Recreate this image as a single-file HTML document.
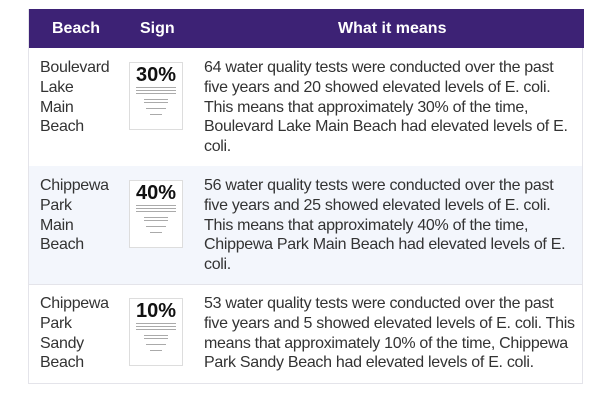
<!DOCTYPE html>
<html><head><style>
body{margin:0;width:610px;height:402px;background:#fff;font-family:"Liberation Sans",sans-serif;position:relative;overflow:hidden}
.tbl{position:absolute;left:28px;top:9px;width:555px;height:375px;border:1px solid #e4e4ea;border-top:none;box-sizing:border-box}
.hd{position:absolute;left:0;top:0;width:555px;height:39px;background:#3d2275;color:#fff;font-weight:bold;font-size:16px}
.hd span{position:absolute;top:11px}
.row{position:absolute;left:0;width:553px;border-bottom:1px solid #e4e4ea;font-size:16px;line-height:19.8px;color:#333;letter-spacing:-0.3px;white-space:nowrap}
.b{position:absolute;left:11px;top:10px}
.m{position:absolute;left:175px;top:10px}
.sign{position:absolute;left:100px;top:14px;width:52px;height:66px;border:1px solid #ddd;background:#fff;text-align:center;letter-spacing:0}
.sign .p{font-size:20px;font-weight:bold;color:#111;line-height:20px;margin-top:2px}
.sign i{display:block;height:1px;background:#aaa;margin:2px 6px}
</style></head><body>
<div class="tbl">
<div class="hd"><span style="left:23px">Beach</span><span style="left:111px">Sign</span><span style="left:309px">What it means</span></div>
<div class="row" style="top:39px;height:118px">
<div class="b">Boulevard<br>Lake<br>Main<br>Beach</div>
<div class="sign"><div class="p">30%</div><i></i><i></i><i></i><i style="margin:5px 14px 2px"></i><i style="margin:2px 14px"></i><i style="margin:5px 16px"></i><i style="margin:4px 20px"></i></div>
<div class="m">64 water quality tests were conducted over the past<br>five years and 20 showed elevated levels of E. coli.<br>This means that approximately 30% of the time,<br>Boulevard Lake Main Beach had elevated levels of E.<br>coli.</div>
</div>
<div class="row" style="top:157px;height:118px;background:#f3f6fc">
<div class="b">Chippewa<br>Park<br>Main<br>Beach</div>
<div class="sign"><div class="p">40%</div><i></i><i></i><i></i><i style="margin:5px 14px 2px"></i><i style="margin:2px 14px"></i><i style="margin:5px 16px"></i><i style="margin:4px 20px"></i></div>
<div class="m">56 water quality tests were conducted over the past<br>five years and 25 showed elevated levels of E. coli.<br>This means that approximately 40% of the time,<br>Chippewa Park Main Beach had elevated levels of E.<br>coli.</div>
</div>
<div class="row" style="top:275px;height:100px;border-bottom:none">
<div class="b">Chippewa<br>Park<br>Sandy<br>Beach</div>
<div class="sign"><div class="p">10%</div><i></i><i></i><i></i><i style="margin:5px 14px 2px"></i><i style="margin:2px 14px"></i><i style="margin:5px 16px"></i><i style="margin:4px 20px"></i></div>
<div class="m">53 water quality tests were conducted over the past<br>five years and 5 showed elevated levels of E. coli. This<br>means that approximately 10% of the time, Chippewa<br>Park Sandy Beach had elevated levels of E. coli.</div>
</div>
</div>
</body></html>
